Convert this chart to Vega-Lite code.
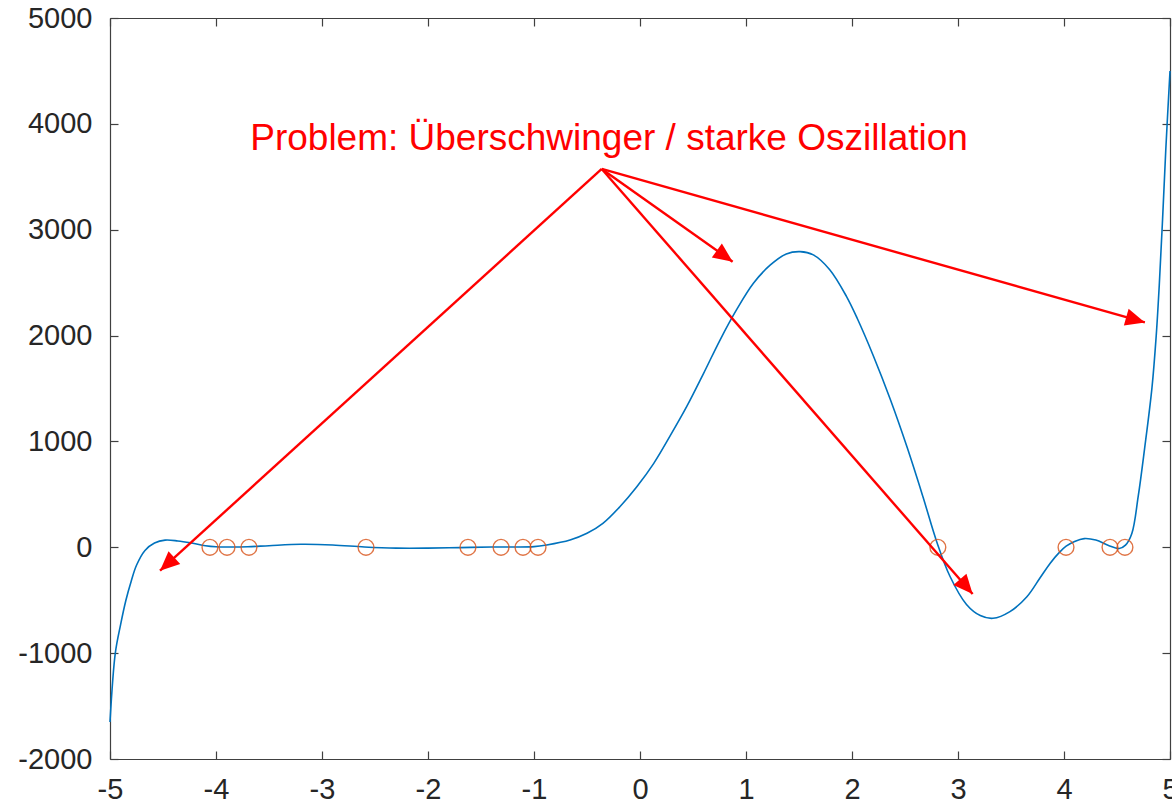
{
  "$schema": "https://vega.github.io/schema/vega-lite/v6.json",
  "autosize": "none",
  "width": 1060,
  "height": 741,
  "padding": {"left": 110, "top": 18, "right": 2, "bottom": 46},
  "background": "white",
  "config": {
    "view": {"stroke": null},
    "axis": {
      "grid": false,
      "domainColor": "#404040",
      "domainWidth": 1.2,
      "tickColor": "#404040",
      "tickWidth": 1.2,
      "tickSize": -8,
      "labelFont": "Liberation Sans",
      "labelFontSize": 29,
      "labelColor": "#262626",
      "title": null
    }
  },
  "datasets": {
    "curve": [
      {"x": -5.00, "y": -1650}, {"x": -4.95, "y": -1000}, {"x": -4.90, "y": -730},
      {"x": -4.85, "y": -500}, {"x": -4.80, "y": -320}, {"x": -4.75, "y": -170},
      {"x": -4.67, "y": -30}, {"x": -4.58, "y": 40}, {"x": -4.48, "y": 68},
      {"x": -4.36, "y": 60}, {"x": -4.23, "y": 40}, {"x": -4.10, "y": 15},
      {"x": -4.00, "y": 5}, {"x": -3.90, "y": 3}, {"x": -3.70, "y": 5},
      {"x": -3.50, "y": 15}, {"x": -3.20, "y": 28}, {"x": -2.90, "y": 22},
      {"x": -2.60, "y": 3}, {"x": -2.30, "y": -8}, {"x": -2.00, "y": -8},
      {"x": -1.70, "y": -3}, {"x": -1.40, "y": 2}, {"x": -1.20, "y": 3},
      {"x": -1.00, "y": 6}, {"x": -0.88, "y": 22}, {"x": -0.66, "y": 69},
      {"x": -0.50, "y": 132}, {"x": -0.35, "y": 226}, {"x": -0.19, "y": 383},
      {"x": -0.03, "y": 572}, {"x": 0.13, "y": 793}, {"x": 0.28, "y": 1045},
      {"x": 0.44, "y": 1328}, {"x": 0.60, "y": 1643}, {"x": 0.755, "y": 1958},
      {"x": 0.91, "y": 2242}, {"x": 1.07, "y": 2494}, {"x": 1.23, "y": 2667},
      {"x": 1.38, "y": 2771}, {"x": 1.51, "y": 2793}, {"x": 1.635, "y": 2762},
      {"x": 1.79, "y": 2622}, {"x": 1.95, "y": 2366}, {"x": 2.05, "y": 2161},
      {"x": 2.20, "y": 1812}, {"x": 2.36, "y": 1400}, {"x": 2.52, "y": 944},
      {"x": 2.67, "y": 475}, {"x": 2.80, "y": 50}, {"x": 2.925, "y": -276},
      {"x": 3.08, "y": -540}, {"x": 3.21, "y": -645}, {"x": 3.33, "y": -671},
      {"x": 3.49, "y": -608}, {"x": 3.65, "y": -467}, {"x": 3.77, "y": -295},
      {"x": 3.87, "y": -150}, {"x": 3.95, "y": -55}, {"x": 4.02, "y": 10},
      {"x": 4.10, "y": 55}, {"x": 4.19, "y": 82},
      {"x": 4.30, "y": 68}, {"x": 4.42, "y": 17}, {"x": 4.52, "y": -12},
      {"x": 4.58, "y": 20}, {"x": 4.64, "y": 130}, {"x": 4.70, "y": 480},
      {"x": 4.76, "y": 930}, {"x": 4.83, "y": 1509}, {"x": 4.87, "y": 2000},
      {"x": 4.90, "y": 2500}, {"x": 4.93, "y": 3100}, {"x": 4.96, "y": 3750},
      {"x": 5.00, "y": 4500}
    ],
    "nodes": [
      {"x": -4.057, "y": 0}, {"x": -3.896, "y": 0}, {"x": -3.689, "y": 0},
      {"x": -2.585, "y": 0}, {"x": -1.623, "y": 0}, {"x": -1.311, "y": 0},
      {"x": -1.104, "y": 0}, {"x": -0.962, "y": 0}, {"x": 2.81, "y": 0},
      {"x": 4.019, "y": 0}, {"x": 4.434, "y": 0}, {"x": 4.575, "y": 0}
    ],
    "arrows": [
      {"x1": -0.361, "y1": 3574, "x2": -4.528, "y2": -221},
      {"x1": -0.361, "y1": 3574, "x2": 0.874, "y2": 2698},
      {"x1": -0.361, "y1": 3574, "x2": 3.138, "y2": -441},
      {"x1": -0.361, "y1": 3574, "x2": 4.763, "y2": 2124}
    ],
    "label": [
      {"x": -0.292, "y": 3754, "text": "Problem: Überschwinger / starke Oszillation"}
    ]
  },
  "layer": [
    {
      "data": {"name": "curve"},
      "mark": {"type": "line", "color": "#0072BD", "strokeWidth": 1.6, "interpolate": "catmull-rom"},
      "encoding": {
        "x": {"field": "x", "type": "quantitative",
              "scale": {"domain": [-5, 5], "nice": false, "zero": false},
              "axis": {"orient": "bottom", "values": [-5, -4, -3, -2, -1, 0, 1, 2, 3, 4, 5],
                       "labelExpr": "'' + datum.value", "labelPadding": 24, "labelFlush": false}},
        "y": {"field": "y", "type": "quantitative",
              "scale": {"domain": [-2000, 5000], "nice": false, "zero": false},
              "axis": {"orient": "left", "values": [-2000, -1000, 0, 1000, 2000, 3000, 4000, 5000],
                       "labelExpr": "'' + datum.value", "labelPadding": 26, "labelFlush": false}}
      }
    },
    {
      "data": {"name": "nodes"},
      "mark": {"type": "point", "shape": "circle", "filled": false, "color": "#D95319", "strokeWidth": 1.4, "size": 250, "opacity": 0.8},
      "encoding": {
        "x": {"field": "x", "type": "quantitative",
              "axis": {"orient": "top", "values": [-5, -4, -3, -2, -1, 0, 1, 2, 3, 4, 5], "labels": false}},
        "y": {"field": "y", "type": "quantitative",
              "axis": {"orient": "right", "values": [-2000, -1000, 0, 1000, 2000, 3000, 4000, 5000], "labels": false}}
      }
    },
    {
      "data": {"name": "arrows"},
      "mark": {"type": "rule", "color": "#FF0000", "strokeWidth": 2.4},
      "encoding": {
        "x": {"field": "x1", "type": "quantitative", "axis": null},
        "y": {"field": "y1", "type": "quantitative", "axis": null},
        "x2": {"field": "x2"},
        "y2": {"field": "y2"}
      }
    },
    {
      "data": {"name": "arrows"},
      "transform": [
        {"calculate": "atan2((datum.x2 - datum.x1) * 106, (datum.y2 - datum.y1) * 0.105857) * 180 / PI", "as": "ang"}
      ],
      "mark": {"type": "point", "shape": "M0,0L-0.45,1L0.45,1Z", "filled": true, "color": "#FF0000", "opacity": 1, "size": 1500, "strokeWidth": 0},
      "encoding": {
        "x": {"field": "x2", "type": "quantitative", "axis": null},
        "y": {"field": "y2", "type": "quantitative", "axis": null},
        "angle": {"field": "ang", "type": "quantitative", "scale": null}
      }
    },
    {
      "data": {"name": "label"},
      "mark": {"type": "text", "color": "#FF0000", "font": "Liberation Sans", "fontSize": 37, "align": "center", "baseline": "alphabetic"},
      "encoding": {
        "x": {"field": "x", "type": "quantitative", "axis": null},
        "y": {"field": "y", "type": "quantitative", "axis": null},
        "text": {"field": "text"}
      }
    }
  ],
  "resolve": {"axis": {"x": "independent", "y": "independent"}}
}
